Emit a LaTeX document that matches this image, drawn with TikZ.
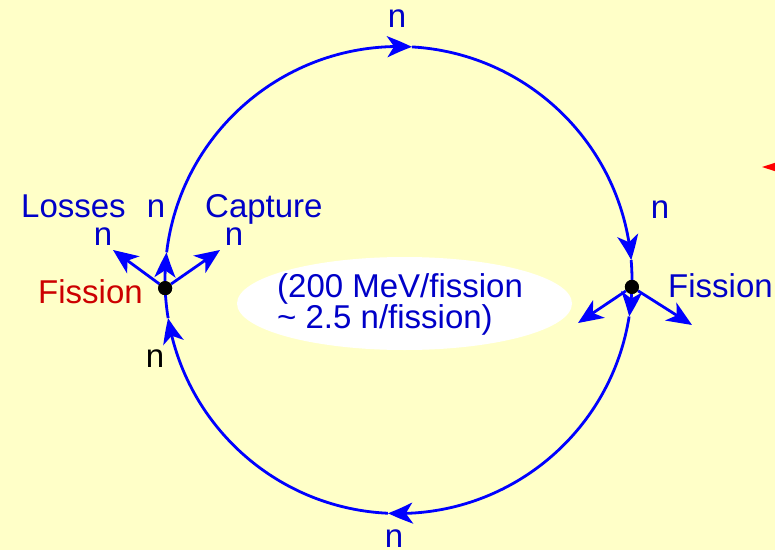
\documentclass[tikz,border=0pt]{standalone}
\usepackage{fontspec}
\setmainfont{Liberation Sans}
\usetikzlibrary{arrows.meta,bending}
\definecolor{bg}{RGB}{255,255,200}
\definecolor{lineblue}{RGB}{0,0,255}
\definecolor{txtblue}{RGB}{0,0,200}
\definecolor{txtred}{RGB}{204,0,0}
\begin{document}
\begin{tikzpicture}[x=1pt,y=1pt,
  flow/.style={lineblue, line width=2.8pt, -{Stealth[length=25pt,width=21pt,inset=7pt,bend]}},
  plain/.style={lineblue, line width=2.8pt},
  lbl/.style={font=\fontsize{33}{37}\selectfont, inner sep=0pt, text=txtblue},
  dotnode/.style={circle, fill=black, minimum size=14pt, inner sep=0pt}]
\fill[bg] (0,0) rectangle (775,550);
\useasboundingbox (0,0) rectangle (775,550);
\def\rr{233.5pt}
\coordinate (C) at (398.5,270);
\path (C) ++(182:\rr) coordinate (L);
\path (C) ++(173.2:\rr) coordinate (A1);
\path (C) ++(86.7:\rr) coordinate (A2);
\path (C) ++(4.9:\rr) coordinate (A3);
\path (C) ++(-1.7:\rr) coordinate (R);
\path (C) ++(-9:\rr) coordinate (A4);
\path (C) ++(-92.6:\rr) coordinate (A5);
\path (C) ++(-170.6:\rr) coordinate (A6);
% white ellipse
\fill[white] (404.5,246.5) ellipse [x radius=167.5pt, y radius=46.5pt];
% circle arcs, clockwise
\draw[flow] (L) arc[start angle=182, end angle=173.2, radius=\rr];
\draw[flow] (A1) arc[start angle=173.2, end angle=86.7, radius=\rr];
\draw[flow] (A2) arc[start angle=86.7, end angle=4.9, radius=\rr];
\draw[plain] (A3) arc[start angle=4.9, end angle=-1.7, radius=\rr];
\draw[flow] (R) arc[start angle=-1.7, end angle=-9, radius=\rr];
\draw[flow] (A4) arc[start angle=-9, end angle=-92.6, radius=\rr];
\draw[flow] (A5) arc[start angle=-92.6, end angle=-170.6, radius=\rr];
\draw[plain] (A6) arc[start angle=-170.6, end angle=-178, radius=\rr];
% fission dots
\node[dotnode] (Ldot) at (L) {};
\node[dotnode] (Rdot) at (R) {};
\coordinate (LossTip) at (113,300);
\coordinate (CapTip) at (220,300);
\coordinate (RlTip) at (578,227);
\coordinate (RrTip) at (692,225);
\draw[flow] (Ldot) -- (LossTip);
\draw[flow] (Ldot) -- (CapTip);
\draw[flow] (Rdot) -- (RlTip);
\draw[flow] (Rdot) -- (RrTip);
\node[dotnode] at (L) {};
\node[dotnode] at (R) {};
% labels
\node[lbl, anchor=base west] (losses) at (21,333) {Losses};
\node[lbl, anchor=base west] (capture) at (205,333) {Capture};
\node[lbl, anchor=base] (nup) at (156,333) {n};
\node[lbl, anchor=base] (nloss) at (103,305) {n};
\node[lbl, anchor=base] (ncap) at (234,305) {n};
\node[lbl, anchor=base west, text=txtred] (fisl) at (38,247) {Fission};
\node[lbl, anchor=base, text=black] (nin) at (155,183) {n};
\node[lbl, anchor=base] (ntop) at (397,522) {n};
\node[lbl, anchor=base] (nbot) at (394,3) {n};
\node[lbl, anchor=base] (nr) at (660,332) {n};
\node[lbl, anchor=base west] (fisr) at (668,253) {Fission};
\node[lbl, anchor=base west] (info1) at (277,253) {(200 MeV/fission};
\node[lbl, anchor=base west] (info2) at (277,222) {\textasciitilde{} 2.5 n/fission)};
% red arrow fragment at right edge
\fill[red] (762,383) -- (776,387.5) -- (776,378.5) -- cycle;
\end{tikzpicture}
\end{document}
